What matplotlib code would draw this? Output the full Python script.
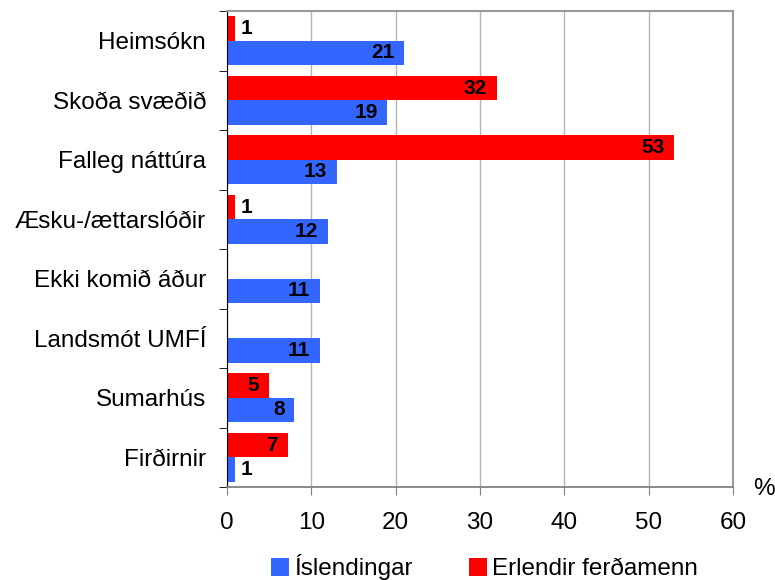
import numpy as np
import matplotlib.pyplot as plt

plt.rcParams['font.family'] = ['Liberation Sans', 'DejaVu Sans']

categories = ['Heimsókn', 'Skoða svæðið', 'Falleg náttúra', 'Æsku-/ættarslóðir',
              'Ekki komið áður', 'Landsmót UMFÍ', 'Sumarhús', 'Firðirnir']
islendingar = [21, 19, 13, 12, 11, 11, 8, 1]
erlendir = [1, 32, 53, 1, None, None, 5, 7.2]

blue = '#3366FF'
red = '#FF0000'

fig = plt.figure(figsize=(7.75, 5.8), dpi=100)
ax = fig.add_axes([227 / 775, 93 / 580, 506 / 775, 476 / 580])

index = np.arange(len(categories))
h = 0.41
off = 0.205

def label_bars(bars, values):
    for bar, v in zip(bars, values):
        if v is None:
            continue
        y = bar.get_y() + bar.get_height() / 2
        txt = '%.0f' % v
        if v >= 4:
            ax.annotate(txt, (v, y), xytext=(-7, 0), textcoords='offset points',
                        ha='right', va='center', fontsize=15, fontweight='bold')
        else:
            ax.annotate(txt, (v, y), xytext=(4, 0), textcoords='offset points',
                        ha='left', va='center', fontsize=15, fontweight='bold')

erl_vals = [0 if v is None else v for v in erlendir]
b_red = ax.barh(index - off, erl_vals, height=h, color=red, label='Erlendir ferðamenn')
b_blue = ax.barh(index + off, islendingar, height=h, color=blue, label='Íslendingar')
label_bars(b_red, erlendir)
label_bars(b_blue, islendingar)

ax.set_xlim(0, 60)
ax.set_ylim(len(categories) - 0.5, -0.5)
ax.set_xticks(np.arange(0, 61, 10))
ax.tick_params(axis='x', labelsize=17.5, length=6, color='#808080', pad=12)

ax.set_yticks(index)
ax.set_yticklabels(categories)
ax.set_yticks(np.arange(-0.5, len(categories), 1), minor=True)
ax.tick_params(axis='y', which='major', length=0, labelsize=17.5, pad=15)
ax.tick_params(axis='y', which='minor', length=6, color='black')

ax.xaxis.grid(True, color='#B4B4B4', linewidth=1)
ax.set_axisbelow(True)

ax.spines['left'].set_color('black')
ax.spines['bottom'].set_color('#808080')
ax.spines['top'].set_color('#999999')
ax.spines['right'].set_color('#999999')
ax.spines['top'].set_linewidth(1.5)
ax.spines['right'].set_linewidth(1.5)
ax.spines['bottom'].set_linewidth(1.3)

fig.text(0.986, 0.157, '%', fontsize=17.5, ha='center', va='center')

handles = [b_blue, b_red]
fig.legend(handles, [hd.get_label() for hd in handles], loc='center',
           bbox_to_anchor=(0.625, 0.022), ncol=2, frameon=False, fontsize=17.5,
           handlelength=0.75, handleheight=0.75, handletextpad=0.2,
           columnspacing=2.3)

fig.savefig('out.png', dpi=100)
plt.close()
